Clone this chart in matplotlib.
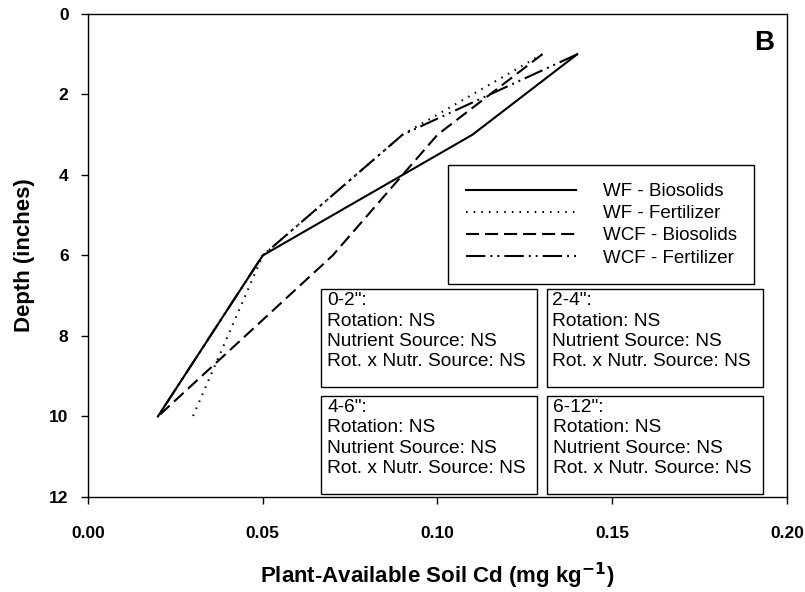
import matplotlib
matplotlib.use("Agg")
from matplotlib import pyplot as plt
from matplotlib.patches import Rectangle

plt.rcParams['font.family'] = ['Liberation Sans', 'DejaVu Sans']
plt.rcParams['lines.scale_dashes'] = False

# Data
depth = [1, 3, 6, 10]
wf_biosolids = [0.14, 0.11, 0.05, 0.02]
wf_fertilizer = [0.13, 0.09, 0.05, 0.03]
wcf_biosolids = [0.13, 0.10, 0.07, 0.02]
wcf_fertilizer = [0.14, 0.09, 0.05, 0.02]

series_labels = ["WF - Biosolids", "WF - Fertilizer", "WCF - Biosolids", "WCF - Fertilizer"]
series_styles = ['-', (0, (1.1, 4.4)), (0, (9.4, 4.3)), (0, (14, 3.6, 1.4, 3.6, 1.4, 3.6))]

x_ticks = [0.00, 0.05, 0.10, 0.15, 0.20]
y_ticks = [0, 2, 4, 6, 8, 10, 12]

layers = ['0-2"', '2-4"', '4-6"', '6-12"']
rotation_sig = ["NS", "NS", "NS", "NS"]
source_sig = ["NS", "NS", "NS", "NS"]
interaction_sig = ["NS", "NS", "NS", "NS"]

fig = plt.figure(figsize=(8.05, 5.92), dpi=100)
ax = fig.add_axes([0.1093, 0.1605, 0.8683, 0.8159])

all_series = [wf_biosolids, wf_fertilizer, wcf_biosolids, wcf_fertilizer]
for xs, lab, ls in zip(all_series, series_labels, series_styles):
    ax.plot(xs, depth, color='black', linewidth=1.5, linestyle=ls, label=lab)

ax.set_xlim(0, 0.20)
ax.set_ylim(12, 0)
ax.set_xticks(x_ticks)
ax.set_xticklabels(["%.2f" % t for t in x_ticks])
ax.set_yticks(y_ticks)
ax.tick_params(direction='out', length=5, width=1, labelsize=12.5)
ax.tick_params(axis='x', pad=16)
ax.tick_params(axis='y', pad=9)
for lbl in ax.get_xticklabels() + ax.get_yticklabels():
    lbl.set_fontweight('bold')
for sp in ax.spines.values():
    sp.set_linewidth(1)

ax.set_xlabel("Plant-Available Soil Cd (mg kg$^{\\mathbf{-1}}$)", fontsize=16,
              fontweight='bold', labelpad=14)
ax.set_ylabel("Depth (inches)", fontsize=16, fontweight='bold', labelpad=10)

ax.text(0.968, 0.94, "B", transform=ax.transAxes, fontsize=20, fontweight='bold',
        ha='center', va='center')

leg = ax.legend(loc='upper left', bbox_to_anchor=(0.515, 0.687), borderaxespad=0,
                fancybox=False, edgecolor='black', framealpha=1, fontsize=13.5,
                handlelength=5.9, handletextpad=1.4, labelspacing=0.27, borderpad=0.95)
leg.get_frame().set_linewidth(1)

# stats boxes (x0, x1, y_bottom, y_top) in axes fraction
boxes = [(0.334, 0.642, 0.228, 0.430),
         (0.656, 0.966, 0.228, 0.430),
         (0.334, 0.643, 0.006, 0.209),
         (0.657, 0.966, 0.006, 0.209)]
for (x0, x1, y0, y1), layer, r, s, i in zip(boxes, layers, rotation_sig, source_sig, interaction_sig):
    ax.add_patch(Rectangle((x0, y0), x1 - x0, y1 - y0, transform=ax.transAxes,
                           fill=False, edgecolor='black', linewidth=1))
    txt = "%s:\nRotation: %s\nNutrient Source: %s\nRot. x Nutr. Source: %s" % (layer, r, s, i)
    ax.text(x0 + 0.008, y1 - 0.006, txt, transform=ax.transAxes, fontsize=13.8,
            ha='left', va='top', linespacing=1.26)

fig.savefig("out.png", dpi=100)
